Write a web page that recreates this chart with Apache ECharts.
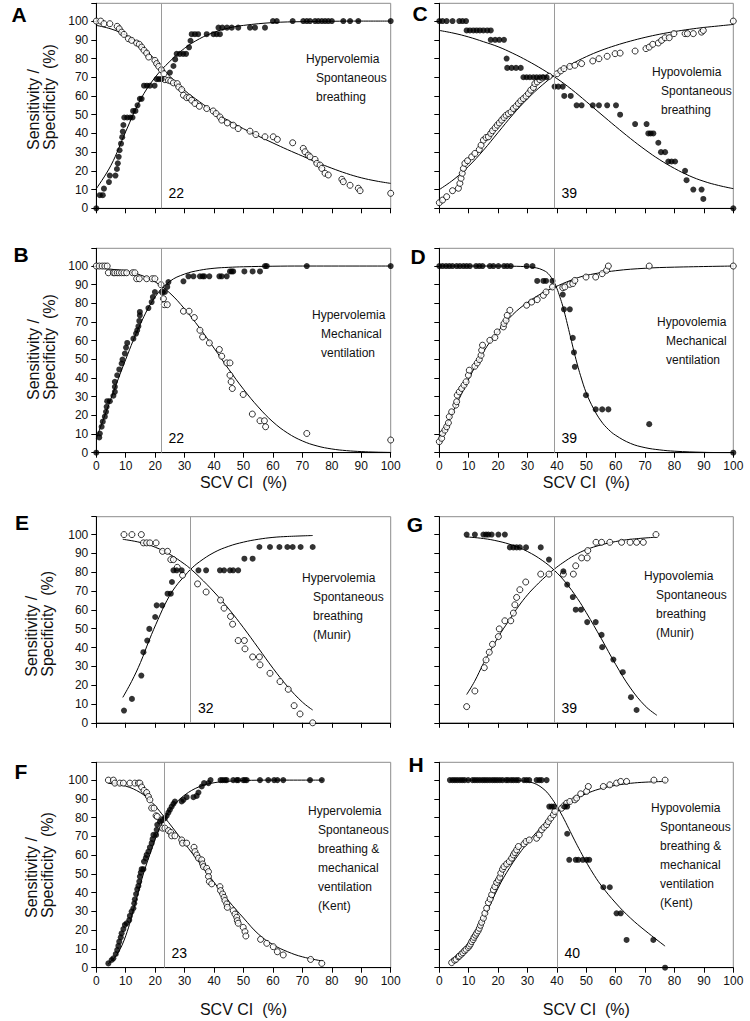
<!DOCTYPE html>
<html><head><meta charset="utf-8">
<script src="https://cdn.jsdelivr.net/npm/echarts/dist/echarts.min.js"></script>
<style>html,body{margin:0;padding:0;background:#fff}#c{width:750px;height:1021px}</style>
</head><body><div id="c"></div>
<script>
// ---------------- DATA ----------------
const panelIds = ['A','B','C','D','E','F','G','H'];
const cutoffs = [22, 22, 39, 39, 32, 23, 39, 40];
const xTitle = 'SCV CI  (%)';
const yTitle = ['Sensitivity /', 'Specificity  (%)'];
const notes = [
  ['Hypervolemia','Spontaneous','breathing'],
  ['Hypervolemia','Mechanical','ventilation'],
  ['Hypovolemia','Spontaneous','breathing'],
  ['Hypovolemia','Mechanical','ventilation'],
  ['Hypervolemia','Spontaneous','breathing','(Munir)'],
  ['Hypervolemia','Spontaneous','breathing &','mechanical','ventilation','(Kent)'],
  ['Hypovolemia','Spontaneous','breathing','(Munir)'],
  ['Hypovolemia','Spontaneous','breathing &','mechanical','ventilation','(Kent)']
];

const A_filled = [[0,0],[1.2,7],[2.2,7],[2.6,10.5],[4.3,14],[4.6,17.5],[6.5,17.5],[7,21],[7.3,24],[7.6,27.5],[7.9,31],[8.4,34.5],[8.8,38],[9,41],[9.2,44.5],[9.5,48.5],[10.5,48.5],[11.5,48.5],[12.3,48.5],[12.5,52],[13.3,52],[14,55],[14.8,58.5],[15.4,58.5],[16.2,65.5],[17.2,65.5],[18.2,65.5],[19.8,65.5],[20.5,69],[21.3,69],[22.2,69],[25,72.5],[26.2,76],[26.8,79.5],[27.3,82.5],[28.4,82.5],[29.5,82.5],[30.5,82.5],[31.5,86],[32,89.5],[32.4,93],[33.5,93],[34.6,93],[37.5,93],[39.8,93],[40.9,93],[42,93],[41.5,96.5],[42.8,96.5],[44.4,96.5],[46,96.5],[48.2,96.5],[52.2,96.5],[53.9,96.5],[57.3,96.5],[60,100],[61.3,100],[66.7,100],[70.3,100],[71.5,100],[72.6,100],[74.3,100],[75.4,100],[76.6,100],[77.7,100],[78.8,100],[80,100],[83.9,100],[86.2,100],[89,100],[100,100]];
const A_open = [[0,100],[1.5,100],[2.6,98.6],[4.6,98.6],[7.1,97.2],[7.8,95.9],[8.6,94.1],[9.4,92.9],[10.9,90.6],[12,89.7],[13.7,88.3],[14.6,87.6],[15.4,86.1],[16.2,84.4],[17.1,82.9],[17.8,80.8],[19.9,79],[20.5,77.3],[21.2,75.8],[22.1,74],[23,71.9],[23.3,68.7],[24.5,68.4],[25.3,68],[26.2,67],[27.5,66.6],[28,64.8],[29,63.4],[29.6,60.4],[30.7,59.1],[31.6,59.1],[32.4,57.7],[33.5,56],[35,54.5],[37.5,53.3],[39.7,52],[40.7,50.6],[42,48.8],[42.6,47.1],[44.5,45.6],[46.5,44.4],[48.2,42.6],[52.2,41.2],[54.2,39.4],[57.3,38.2],[60.1,38.2],[61.5,36.8],[66.7,35],[70.3,32],[70.9,30.2],[72,28.4],[72.6,27.5],[74.3,26.1],[74.9,24],[76,23.1],[76.6,21.3],[77.7,18.7],[78.8,17.8],[83.4,15.5],[83.9,14.2],[86.2,12.3],[89,10.7],[89.6,9.4],[100,8]];
const A_fitFilled = [[0,10.5],[5,23],[10,41],[15,58],[20,70],[25,78.5],[30,85.5],[35,90.5],[40,94],[45,96.3],[50,97.7],[60,99.2],[70,99.7],[80,99.9],[90,100],[100,100]];
const A_fitOpen = [[0,97.7],[5,95.8],[10,92.5],[15,87.3],[20,79.3],[25,70.5],[30,63],[35,57],[40,51.5],[45,46.7],[50,42.5],[55,38.6],[60,34.9],[65,31.3],[70,27.9],[75,24.5],[80,21.4],[85,18.6],[90,16.3],[95,14.6],[100,13.3]];

const B_filled = [[0,0],[1,8.2],[1.2,10.3],[1.8,13.9],[2.2,16.6],[2.9,19.3],[3.3,21.9],[3.5,24.6],[3.7,27.6],[4.6,27.6],[5.8,30.5],[6.3,32.6],[6.3,35.3],[6.3,38],[7.1,41.5],[7.8,44.6],[8.6,47.8],[8.9,49.9],[9.7,53.1],[10.1,56.3],[10.5,58.8],[12.6,61.1],[13.5,63.8],[13.9,65.6],[14.3,67.7],[14.6,70.6],[14.8,73.6],[14.8,75.4],[17.7,77.5],[18.8,80.7],[19.2,83.4],[19.9,86.1],[22.5,86.1],[23.3,86.1],[24.1,88.8],[24.5,91.4],[29.6,91.8],[31.3,94.5],[33,94.5],[35.2,94.5],[36.1,94.5],[36.7,94.5],[38.4,94.5],[41.8,94.5],[42.6,94.5],[44.3,94.5],[45.4,97.1],[46,97.1],[46.5,97.1],[50.3,97.1],[53.1,97.1],[55.6,97.1],[57.3,100],[57.9,100],[71.5,100],[100,100]];
const B_open = [[0,100],[1,100],[2,100],[2.9,100],[3.7,100],[4.1,96.4],[5.8,96.4],[6.3,96.4],[7.1,96.4],[7.8,96.4],[8.6,96.4],[9.4,96.4],[10.3,96.4],[12.3,96.4],[13.1,96.4],[13.7,93.2],[14.6,93.2],[17.1,93.2],[19,93.2],[19.9,93.2],[22,90],[22.4,86.1],[22.8,82.5],[23.1,79.3],[24.1,79.3],[29.6,75.8],[31.5,75.8],[33.3,72.4],[35.2,65.6],[36.1,62],[38.4,58.8],[41.8,55.3],[42.6,51.7],[44.3,48.1],[45.4,48.1],[45.4,41.5],[45.8,38],[46.2,34.4],[49.9,31.2],[53,20.7],[55.6,17.1],[57.1,17.1],[57.5,13.9],[71.5,10.3],[100,6.8]];
const B_fitFilled = [[0,7.5],[5,29],[10,50],[15,69],[20,83.5],[25,91.8],[30,95.7],[35,97.7],[40,98.8],[45,99.3],[50,99.6],[60,99.9],[70,100],[100,100]];
const B_fitOpen = [[0,99],[5,98.3],[10,97.2],[15,95.2],[20,91.5],[25,85.5],[30,77],[35,67],[40,56],[45,44.7],[50,34],[55,24.5],[60,16.5],[65,10.5],[70,6.3],[75,3.6],[80,2],[85,1.1],[90,0.6],[95,0.3],[100,0.15]];

const C_filled = [[0,100],[1.1,100],[2.5,100],[4.5,100],[6.8,100],[7.9,100],[9.1,100],[9.3,95],[10.4,95],[11.6,95],[12.7,95],[13.8,95],[15,95],[16.3,95],[17.5,95],[17.5,90],[19,90],[20.4,90],[22,90],[22.9,80],[23.1,75],[24.6,75],[26.1,75],[27.7,75],[28.6,70],[29.7,70],[30.8,70],[32,70],[33.1,70],[34.2,70],[35.4,70],[36.5,70],[39.2,65],[40.5,65],[42,65],[42.5,60],[44.7,60],[46.7,55],[48.4,55],[52.2,55],[54.3,55],[57.1,55],[60.1,55],[61.5,50],[66.6,45],[70.5,45],[71.1,40],[71.9,40],[72.8,40],[74.5,35],[75.4,30],[76.8,30],[77.9,25],[79,25],[80.2,25],[83.6,20],[84.1,15],[86.4,10],[89.2,10],[89.8,5],[100,0]];
const C_open = [[0,3],[1.1,4.4],[2.5,6.2],[4.5,9.4],[6.5,10.7],[7,13.3],[7.4,16],[7.8,18.7],[8.2,21.3],[8.7,24],[9.6,25.4],[11,27.5],[12.1,29.3],[13.6,31.4],[14.2,33.7],[15,36.4],[15.9,37.8],[16.7,38.2],[17.5,40],[18.1,41.4],[19,43],[19.7,44.4],[20.4,45.6],[21.2,47.1],[22,48.5],[22.7,49.7],[23.5,50.6],[24.4,51.5],[25.2,53.3],[26.1,54.5],[26.9,56],[27.7,57.4],[28.6,58.6],[29.5,59.9],[30.3,61.3],[31.1,63.1],[32,64.5],[32.5,66.6],[33.3,67.5],[34.2,68.7],[35.1,69.6],[37.4,70.5],[40.1,71.9],[41.3,73.4],[42.4,74.6],[44.4,75.8],[46.1,76.4],[48.4,77.3],[52.2,78.7],[54.3,79.9],[57.1,81.2],[59.8,82.6],[61.5,82.9],[66.6,84],[70.3,85.3],[71.4,86.1],[72.6,87.6],[74.5,88.3],[75.6,89.7],[76.8,91.1],[78.2,91.1],[79.8,93.3],[83.6,93.3],[84.4,93.3],[86.4,93.3],[89.2,94.1],[89.8,95],[100,100]];
const C_fitFilled = [[0,95],[5,93.5],[10,91.5],[15,89],[20,86.3],[25,82.8],[30,78.8],[35,74.3],[40,69.3],[45,63.5],[50,57],[55,50.3],[60,43.7],[65,37.3],[70,31.3],[75,25.9],[80,21.3],[85,17.4],[90,14.4],[95,12.2],[100,10.5]];
const C_fitOpen = [[0,10],[5,15.5],[10,22.5],[15,31],[20,40.5],[25,50],[30,58.5],[35,65.8],[40,72],[45,77],[50,81],[55,84.3],[60,87],[65,89.3],[70,91.3],[75,93],[80,94.4],[85,95.6],[90,96.6],[95,97.4],[100,98.2]];

const D_filled = [[0,100],[1.1,100],[2.3,100],[3.4,100],[4.5,100],[5.9,100],[7,100],[8.2,100],[9.3,100],[10.4,100],[12.5,100],[13.6,100],[14.7,100],[17.2,100],[18.4,100],[20.1,100],[22,100],[23.1,100],[24.3,100],[29.7,100],[31.7,100],[33.3,92],[35.4,92],[36.3,92],[38.5,92],[42,84.7],[42.4,76.8],[44.4,76.8],[45.4,61.5],[45.8,53.7],[46.1,46],[49.9,30.8],[53.2,23.2],[55.4,23.2],[57.5,23.2],[71.4,15.3],[100,0]];
const D_open = [[0,5.9],[0.8,7.7],[1.1,10.3],[1.9,12.1],[2.5,13.9],[3.1,16],[3.4,19.3],[4.2,21.9],[5.6,25.5],[5.9,27.3],[6.1,30.8],[6.8,32.6],[7.6,34.4],[8.4,36.2],[9.1,38],[9.9,41.5],[10.2,44.2],[12.1,46.3],[12.9,48.1],[13.6,49.9],[14.2,52.2],[14.4,54.9],[14.7,57.6],[17.2,60.2],[18.9,61.7],[19.7,64.7],[21.8,67.4],[22,69.2],[22.7,70.9],[23.1,73.6],[24,76.3],[29.7,79],[31.4,80.7],[33.3,82],[35.4,84.3],[36.3,86.1],[38.5,88.8],[42,88.4],[42.7,88.8],[44.4,90.2],[45.4,90.6],[46.1,92.3],[49.9,94.1],[53.2,94.1],[55.4,95.9],[56.9,97.7],[57.5,100],[71.4,100],[100,100]];
const D_fitFilled = [[0,100],[10,100],[20,100],[25,99.9],[30,99.6],[33,99],[35,98],[37,96],[39,91.5],[40,88],[41,83.5],[42,78.5],[43,72.5],[44,66],[45,59.5],[46,53],[47,47],[48,41.5],[50,32],[52.5,23.5],[55,17],[57.5,12.5],[60,9.3],[65,5],[70,2.7],[75,1.5],[80,0.8],[90,0.2],[100,0]];
const D_fitOpen = [[0,7],[2.5,15],[5,23],[7.5,31.3],[10,39.5],[15,54],[20,65],[25,74],[30,80.5],[35,85.5],[39,88.5],[45,92.5],[50,95],[60,97.5],[70,98.8],[80,99.4],[100,100]];

const E_filled = [[9.4,6.5],[12.1,12.7],[15.3,25.1],[16,37.5],[17.3,43.7],[18,49.9],[20,56.2],[20.5,62.4],[22.4,62.4],[24.2,68.6],[25.3,68.6],[25.7,74.8],[26.2,81],[27.3,81],[29,81],[34.7,81],[37.3,81],[42,81],[43.4,81],[45.4,81],[46.5,81],[48.2,81],[50.3,87.2],[53.1,87.2],[55.4,93.4],[59,93.4],[62.2,93.4],[64.9,93.4],[66.7,93.4],[69.4,93.4],[73.5,93.4]];
const E_open = [[9.4,100],[12.1,100],[15.3,100],[16,95.6],[17.1,95.6],[18.2,95.6],[20.3,95.6],[22.5,91.1],[24.2,91.1],[25.3,86.7],[26.2,86.7],[27.5,82.6],[29.3,78.4],[34.4,73.8],[37.3,69.5],[42.2,65.2],[43.4,60.9],[45.6,56.5],[46.3,52.4],[48.2,43.7],[50.3,43.7],[50.5,39.3],[53.1,35],[55.4,35],[55.6,30.8],[59,26.3],[62.4,21.9],[65.2,17.8],[67.2,9.1],[69.2,4.7],[73.5,0]];
const E_fitFilled = [[9,13.5],[12,22],[15,32],[18,44],[21,55],[24,65],[27,72.5],[30,78],[32,81.5],[35,85.5],[40,90.5],[45,93.8],[50,96],[55,97.5],[60,98.5],[65,99],[73.5,99.5]];
const E_fitOpen = [[9,97.5],[15,95.8],[20,93.3],[25,89.5],[30,84.3],[32,81.8],[35,77.5],[40,69.5],[45,60.5],[50,50.5],[55,39.8],[60,29],[65,19.2],[70,11],[73.5,6.8]];

const F_filled = [[4.1,2.3],[5.2,4.1],[5.8,5],[6.6,7.3],[7.1,9.4],[7.5,11.6],[7.8,13.9],[8.3,16.2],[8.6,18.3],[9.2,20.6],[9.7,22.8],[10.3,23.7],[11.2,25.4],[11.4,27.6],[12,29.9],[12.6,31.7],[12.9,34.3],[13.1,36.5],[13.5,39.3],[13.9,41.8],[14.3,43.6],[14.6,45.9],[14.8,48.6],[15.1,50.7],[15.4,52.5],[16,52.5],[16.2,56.6],[16.8,58.4],[17.1,60.1],[17.7,61.9],[18.2,64.1],[18.8,66.4],[19.1,68.5],[19.4,70.8],[20.3,70.8],[20.5,73.5],[20.7,76.2],[21.6,77.9],[22.5,78.8],[23.3,79.7],[23.9,81],[24.5,82.7],[25,84.2],[25.6,85.9],[26.2,87.4],[26.7,88.6],[29,88.6],[29.6,89.5],[30.7,90.9],[33,90.9],[34.1,91.6],[34.7,93.4],[35.8,96.6],[36.6,98.4],[38.1,98.4],[38.8,100],[42.2,100],[42.9,100],[43.7,100],[44.3,100],[46.5,100],[47.7,100],[48.2,100],[49.9,100],[50.5,100],[51.1,100],[55.6,100],[58.4,100],[60.4,100],[61.5,100],[63.5,100],[72.6,100],[76.6,100]];
const F_open = [[4.1,100],[5.8,100],[6.3,98.4],[8,98.4],[9.2,98.4],[11.4,98.4],[13.1,98.4],[14.3,98.4],[14.8,98.4],[15.4,96.3],[16.2,94.5],[17.1,93.4],[17.7,91.3],[18.2,89.5],[18.8,85.1],[19.6,85.1],[20.3,81],[20.7,80.6],[22.2,78.8],[22.5,74.4],[23.3,74.4],[24.5,73.1],[25.3,72.1],[25.6,70.3],[26.7,70.3],[29,68.1],[29.3,66.4],[30.7,66.4],[33.2,64.2],[33.5,61.9],[34.1,60.1],[34.7,58.4],[35.8,57.5],[36.1,55.3],[36.4,53.9],[37.5,53],[38.1,51.2],[38.1,48.6],[38.4,45.9],[39.2,44.7],[42,43.2],[42.2,41.1],[42.9,39.3],[43.4,37.5],[43.7,35.8],[44.3,34],[44.5,32.2],[46.5,30.4],[47.1,28.6],[47.7,26.9],[47.9,25.1],[48.2,23.7],[49.9,21.5],[50.5,19.2],[50.8,16.9],[55.8,15.1],[57.9,13],[60.1,11.2],[61.5,8.5],[63.5,6.8],[72.8,4.4],[76.6,2.3]];
const F_fitFilled = [[4,2],[7,7],[10,17],[13,33],[16,50],[19,64],[21,72.5],[23,79],[26,86],[30,92],[35,96.5],[40,98.6],[45,99.4],[50,99.8],[60,100],[77,100]];
const F_fitOpen = [[4,98.3],[10,96.8],[15,93.3],[18,89.5],[20,86.3],[23,80.5],[26,74.5],[30,66.3],[35,56],[40,45.5],[45,35.5],[50,26.5],[55,18],[60,12.3],[65,8.5],[70,5.8],[77,3.5]];

const G_filled = [[9.3,100],[12.1,100],[15,100],[15.9,100],[16.7,100],[17.8,100],[20.1,100],[22.3,100],[24,93.2],[25.2,93.2],[26.3,93.2],[27.4,93.2],[29.5,93.2],[34.5,93.2],[37.3,86.7],[42.2,80.5],[43.5,73.4],[45.4,66.8],[46.4,60.1],[48.2,60.1],[50.3,53.5],[53.2,53.5],[55.2,46.7],[55.4,40.2],[59.2,33.6],[62.4,26.9],[65.2,13.6],[67.1,6.8]];
const G_open = [[9.3,8.6],[12.1,16.9],[15.3,29.3],[15.9,33.4],[17,37.5],[18.1,41.7],[20.1,45.8],[20.4,49.9],[22.3,54.2],[24.3,54.2],[25.2,58.3],[25.7,62.7],[26.3,66.6],[27.4,70.7],[29.4,74.8],[34.5,79],[37.3,79],[42.2,79],[45.6,79],[46.4,83.4],[48.4,87.6],[50.3,87.6],[50.5,91.5],[53.3,95.9],[55.2,95.9],[58,95.9],[62,95.9],[64.9,95.9],[67.1,95.9],[69.4,95.9],[73.7,100]];
const G_fitFilled = [[9,98.8],[15,97.9],[20,96.5],[25,94.3],[30,91],[35,86.3],[39,81.2],[43,74.5],[47,66],[50,58.5],[55,45],[60,31],[65,18.5],[70,9],[74,4]];
const G_fitOpen = [[9.3,15],[12,22],[15,31.5],[18,40],[21,48],[24,55],[27,62],[30,68],[33,73],[36,77.5],[39,81.5],[42,85],[46,89],[50,92],[55,94.5],[60,96.3],[65,97.5],[73.7,98.6]];

const H_filled = [[3.6,100],[4.5,100],[5.3,100],[6.1,100],[7,100],[7.8,100],[8.6,100],[9.8,100],[11.3,100],[12.1,100],[12.9,100],[13.8,100],[14.7,100],[15.5,100],[16.3,100],[17.2,100],[18.1,100],[18.9,100],[19.7,100],[20.6,100],[21.5,100],[22.7,100],[23.4,100],[24.4,100],[25.2,100],[26.1,100],[26.9,100],[28.8,100],[29.7,100],[30.6,100],[33.1,100],[34,100],[34.8,100],[36.5,100],[37.4,85.9],[38.2,85.9],[39,85.9],[42.7,85.9],[43.5,85.9],[43.5,71.4],[44.2,57.5],[46.4,57.5],[47.3,57.5],[48.8,57.5],[50.1,57.5],[51,57.5],[55.8,42.9],[58,42.9],[60.3,29],[61.7,29],[63.7,14.8],[72.8,14.8],[76.8,0]];
const H_open = [[4.2,2.7],[5.2,4],[5.7,4.5],[6.5,5.8],[6.8,6.2],[7.5,7.2],[8,8],[8.6,9],[9.1,9.8],[9.8,10.8],[10.2,11.6],[10.6,12.6],[11,13.9],[11.5,15],[11.8,16.2],[12.3,17.3],[12.7,18.4],[13.2,19.6],[13.6,21],[14,22.6],[14.4,24.2],[15,26.4],[15.5,29],[16.1,31.7],[16.7,34.7],[17.3,36.6],[17.8,38.9],[18.4,41.5],[18.9,43.2],[19.5,45.4],[20.1,46.8],[20.6,48.2],[20.9,50.4],[21.5,52.5],[22,53.9],[22.9,55.3],[23.8,56.6],[24.6,58.4],[25.2,60.1],[25.7,61.4],[26.3,62.8],[26.9,64.6],[28.8,66],[29.5,67.3],[30.6,68.1],[33.1,69],[34,70.8],[34.8,73.5],[35.6,74.9],[36.5,76.2],[37.1,77.9],[37.9,79.7],[38.8,81.5],[39.3,83.3],[41.6,85],[42.4,86.3],[43.3,87.7],[44.4,88.6],[46.1,89.5],[46.7,90.4],[48.1,92.7],[50.1,94],[50.7,96.6],[55.8,96.6],[58,97.5],[60.3,98.4],[61.7,99.3],[63.7,99.3],[73,100],[76.8,100]];
const H_fitFilled = [[3.6,100],[20,100],[26,99.8],[30,99.2],[33,97.8],[36,94.5],[38,90.8],[40,86],[42,80.5],[44,74.3],[46,68],[48,62],[50,56.3],[52,51],[55,44],[60,34.5],[65,26.5],[70,19.8],[76.8,11.5]];
const H_fitOpen = [[4,4.5],[8,8.5],[12,16],[16,29],[20,42.5],[24,53.5],[28,62.5],[32,70.3],[36,77],[40,83],[44,87.7],[48,91.3],[52,94],[56,95.9],[60,97.2],[65,98.3],[70,98.9],[77,99.3]];

const filledSets = [A_filled, B_filled, C_filled, D_filled, E_filled, F_filled, G_filled, H_filled];
const openSets = [A_open, B_open, C_open, D_open, E_open, F_open, G_open, H_open];
const fitFilledSets = [A_fitFilled, B_fitFilled, C_fitFilled, D_fitFilled, E_fitFilled, F_fitFilled, G_fitFilled, H_fitFilled];
const fitOpenSets = [A_fitOpen, B_fitOpen, C_fitOpen, D_fitOpen, E_fitOpen, F_fitOpen, G_fitOpen, H_fitOpen];

// ---------------- LAYOUT ----------------
const FONT = 'Arial, "Liberation Sans", sans-serif';
const cell = [[0,0],[1,0],[0,1],[1,1],[2,0],[3,0],[2,1],[3,1]]; // [row, col] per panel
const colLeft = [96.3, 439.3], colWidth = [294.4, 294.0];
const rowTop = [3.3, 248.3, 516.7, 762.3], rowBottom = [208.3, 452.7, 722.8, 967.7];
const YMAX = 109.5;
const xLabelRows = [1, 3];
const nameGapByRow = {1: 22, 3: 34};
const letterPos = [[19,14],[21,254],[420,13],[418,256],[22,522],[21,771],[415,524],[416,764]];
const notePos = [[306,316,59],[312,321,315],[652,661,72],[657,666,322],[302,313,578],[308,318,811],[644,656,576],[651,660,808]];
const yTitlePos = [[41,150],[41,400],[39,676.7],[39,918]];

const grids = [], xAxes = [], yAxes = [], series = [], graphics = [];
panelIds.forEach((id, i) => {
  const [r, c] = cell[i];
  grids.push({left: colLeft[c], top: rowTop[r], width: colWidth[c], height: rowBottom[r] - rowTop[r],
    show: true, borderColor: '#8d8d8d', borderWidth: 1, backgroundColor: 'transparent'});
  const hasXLabels = xLabelRows.includes(r);
  xAxes.push({gridIndex: i, type: 'value', min: 0, max: 100, interval: 10,
    axisLine: {show: true, onZero: false, lineStyle: {color: '#000', width: 1}},
    axisTick: {show: true, inside: false, length: 5, lineStyle: {color: '#000'}},
    axisLabel: {show: hasXLabels, fontSize: 12, color: '#111', margin: 7, fontFamily: FONT},
    splitLine: {show: false},
    name: hasXLabels ? xTitle : '', nameLocation: 'middle', nameGap: hasXLabels ? nameGapByRow[r] : 0,
    nameTextStyle: {fontSize: 16, color: '#111', fontFamily: FONT}});
  yAxes.push({gridIndex: i, type: 'value', min: 0, max: YMAX, interval: 10,
    axisLine: {show: true, onZero: false, lineStyle: {color: '#000', width: 1}},
    axisTick: {show: true, inside: false, length: 5, lineStyle: {color: '#000'}},
    axisLabel: {show: c === 0, fontSize: 12, color: '#111', margin: 8, fontFamily: FONT,
      formatter: v => (v > 100 ? '' : String(v))},
    splitLine: {show: false}});
  const common = {xAxisIndex: i, yAxisIndex: i, animation: false};
  series.push(Object.assign({type: 'line', data: fitOpenSets[i], smooth: 0.4, symbol: 'none',
    lineStyle: {color: '#000', width: 1}, silent: true, z: 2}, common));
  series.push(Object.assign({type: 'line', data: fitFilledSets[i], smooth: 0.4, symbol: 'none',
    lineStyle: {color: '#000', width: 1}, silent: true, z: 2}, common));
  series.push(Object.assign({type: 'scatter', data: openSets[i], symbol: 'circle', symbolSize: 6,
    itemStyle: {color: '#fff', borderColor: '#000', borderWidth: 1}, z: 3}, common));
  series.push(Object.assign({type: 'scatter', data: filledSets[i], symbol: 'circle', symbolSize: 6,
    itemStyle: {color: '#000'}, z: 4}, common));
  series.push(Object.assign({type: 'scatter', data: [[cutoffs[i], 8]], symbol: 'circle', symbolSize: 1,
    itemStyle: {color: '#fff', opacity: 1}, silent: true, z: 1,
    label: {show: true, position: 'right', distance: 7, formatter: String(cutoffs[i]),
      fontSize: 14, color: '#000', opacity: 1, fontFamily: FONT},
    markLine: {silent: true, symbol: 'none', animation: false, label: {show: false},
      lineStyle: {color: '#9a9a9a', width: 1, type: 'solid', opacity: 1}, data: [{xAxis: cutoffs[i]}]}}, common));

  graphics.push({type: 'text', x: letterPos[i][0], y: letterPos[i][1],
    style: {text: id, font: 'bold 21px ' + FONT, fill: '#000', textAlign: 'center', textVerticalAlign: 'middle'}});
  const [nx1, nx2, ny] = notePos[i];
  notes[i].forEach((t, k) => {
    graphics.push({type: 'text', x: k === 0 ? nx1 : nx2, y: ny + k * 19,
      style: {text: t, font: '12px ' + FONT, fill: '#111', textAlign: 'left', textVerticalAlign: 'middle'}});
  });
});
yTitlePos.forEach(([x, y]) => {
  graphics.push({type: 'text', x: x, y: y, rotation: Math.PI / 2,
    style: {text: yTitle.join('\n'), font: '16px ' + FONT, fill: '#111', textAlign: 'left',
      textVerticalAlign: 'middle', lineHeight: 16}});
});

const chart = echarts.init(document.getElementById('c'), null, {renderer: 'svg'});
chart.setOption({animation: false, backgroundColor: '#fff', grid: grids, xAxis: xAxes, yAxis: yAxes,
  series: series, graphic: graphics});
</script></body></html>
